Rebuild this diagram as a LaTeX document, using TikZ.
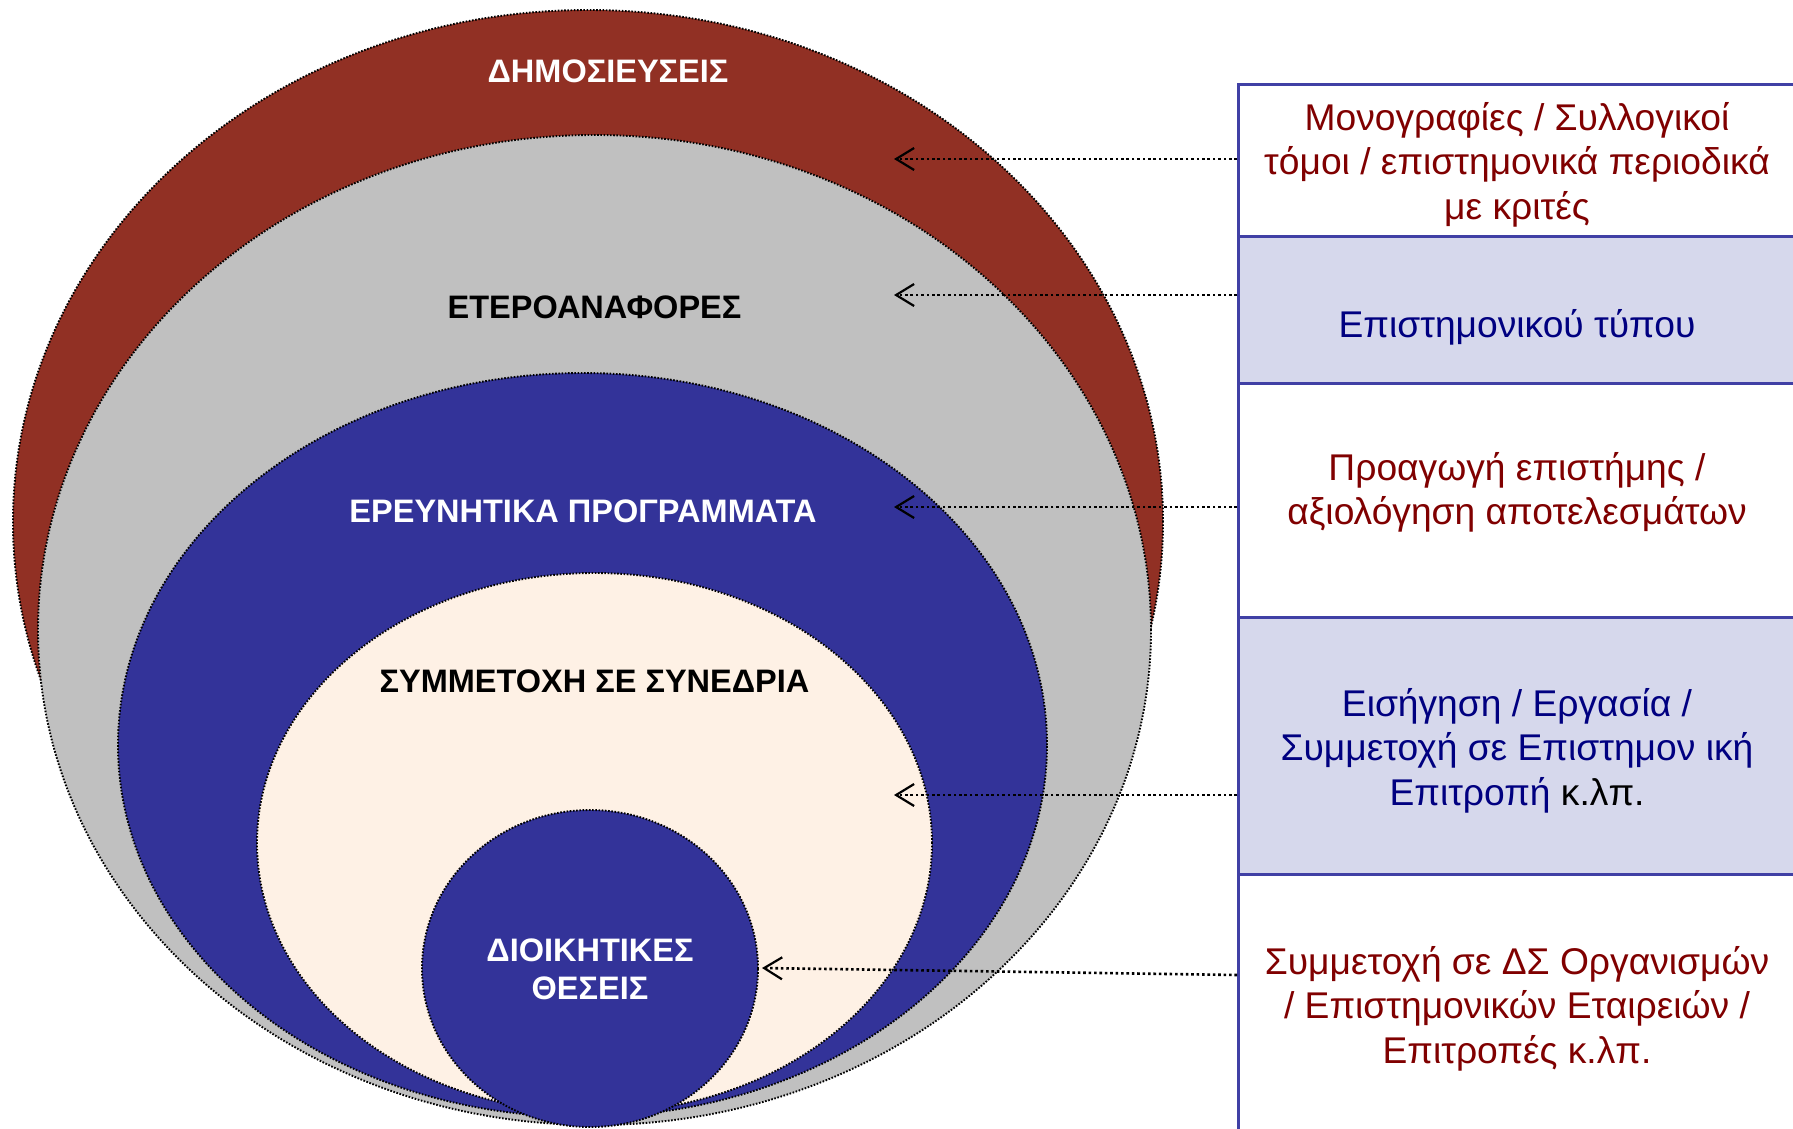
\documentclass[tikz,border=0pt]{standalone}
\usepackage{fontspec}
\setmainfont{Liberation Sans}
\usetikzlibrary{shapes.geometric,arrows.meta}
\definecolor{pubred}{RGB}{145,48,36}
\definecolor{refgray}{RGB}{192,192,192}
\definecolor{resblue}{RGB}{51,51,153}
\definecolor{confcream}{RGB}{254,241,229}
\definecolor{boxline}{RGB}{64,64,165}
\definecolor{hatch}{RGB}{214,216,236}
\definecolor{txtred}{RGB}{128,0,0}
\definecolor{txtnavy}{RGB}{0,0,128}
\begin{document}
\begin{tikzpicture}[x=1pt,y=-1pt,
  oval/.style={ellipse, draw=black, line width=1.9pt, dash pattern=on 1.6pt off 1.6pt, inner sep=0pt, outer sep=0pt},
  lbl/.style={font=\fontsize{32.5}{37.7}\selectfont\bfseries, align=center, inner sep=0pt},
  boxnode/.style={rectangle, draw=boxline, line width=3pt, anchor=north west, minimum width=600pt, inner sep=0pt},
  rtext/.style={font=\fontsize{37.2}{44.6}\selectfont, align=center, inner sep=0pt},
  conn/.style={line width=2.6pt, dash pattern=on 2.6pt off 2.8pt, -{Straight Barb[length=18pt,width=22pt,line width=2.2pt]}}
]
\useasboundingbox (0,0) rectangle (1793,1128);
% nested ellipses
\node[oval, fill=pubred, minimum width=1150pt, minimum height=1024pt] (pub) at (588,522) {};
\node[oval, fill=refgray, minimum width=1113pt, minimum height=990pt] (ref) at (594.5,630) {};
\node[oval, fill=resblue, minimum width=929pt, minimum height=744pt] (res) at (582.5,745) {};
\node[oval, fill=confcream, minimum width=675pt, minimum height=540pt] (conf) at (594.5,843) {};
\node[oval, fill=resblue, minimum width=336pt, minimum height=317pt] (adm) at (590,968.5) {};
% labels
\node[lbl, text=white] (lpub) at (608,71) {ΔΗΜΟΣΙΕΥΣΕΙΣ};
\node[lbl, text=black] (lref) at (594.5,307.5) {ΕΤΕΡΟΑΝΑΦΟΡΕΣ};
\node[lbl, text=white] (lres) at (583,511) {ΕΡΕΥΝΗΤΙΚΑ ΠΡΟΓΡΑΜΜΑΤΑ};
\node[lbl, text=black] (lconf) at (594.5,681.5) {ΣΥΜΜΕΤΟΧΗ ΣΕ ΣΥΝΕΔΡΙΑ};
\node[lbl, text=white] (ladm) at (590,969.5) {ΔΙΟΙΚΗΤΙΚΕΣ\\ΘΕΣΕΙΣ};
% right boxes
\node[boxnode, fill=white, minimum height=152pt] (b1) at (1237,83) {};
\node[boxnode, fill=hatch, minimum height=147pt] (b2) at (1237,235) {};
\node[boxnode, fill=white, minimum height=234pt] (b3) at (1237,382) {};
\node[boxnode, fill=hatch, minimum height=257pt] (b4) at (1237,616) {};
\node[boxnode, fill=white, minimum height=270pt] (b5) at (1237,873) {};
% box texts
\node[rtext, text=txtred] (tx1) at (1517,164.5) {Μονογραφίες / Συλλογικοί\\τόμοι / επιστημονικά περιοδικά\\με κριτές};
\node[rtext, text=txtnavy] (tx2) at (1517,327.5) {Επιστημονικού τύπου};
\node[rtext, text=txtred] (tx3) at (1517,492.5) {Προαγωγή επιστήμης /\\αξιολόγηση αποτελεσμάτων};
\node[rtext, text=txtnavy] (tx4) at (1517,750.5) {Εισήγηση / Εργασία /\\Συμμετοχή σε Επιστημον ική\\Επιτροπή \textcolor{black}{κ.λπ.}};
\node[rtext, text=txtred] (tx5) at (1517,1008.5) {Συμμετοχή σε ΔΣ Οργανισμών\\/ Επιστημονικών Εταιρειών /\\Επιτροπές κ.λπ.};
% arrow targets
\coordinate (t1) at (894,159);
\coordinate (t2) at (894,295);
\coordinate (t3) at (894,507);
\coordinate (t4) at (894,795);
\coordinate (t5) at (762,968);
\coordinate (s5) at (1237,975);
\draw[conn] (b1.west |- t1) -- (t1);
\draw[conn] (b2.west |- t2) -- (t2);
\draw[conn] (b3.west |- t3) -- (t3);
\draw[conn] (b4.west |- t4) -- (t4);
\draw[conn] (s5) -- (t5);
\end{tikzpicture}
\end{document}
